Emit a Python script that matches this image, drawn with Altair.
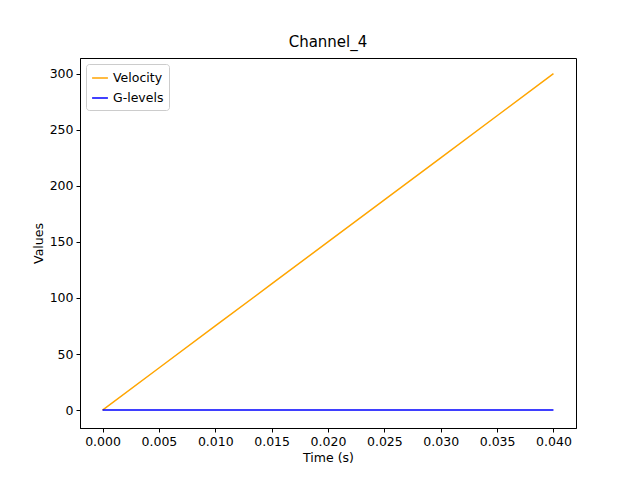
import altair as alt
import pandas as pd

time = [0.0, 0.005, 0.01, 0.015, 0.02, 0.025, 0.03, 0.035, 0.04]
velocity = [0, 37.5, 75, 112.5, 150, 187.5, 225, 262.5, 300]
glevels = [0.0, 0.0, 0.05, 0.1, 0.1, 0.05, 0.05, 0.05, 0.1]

rows = []
for t, v in zip(time, velocity):
    rows.append({"t": t, "v": v, "s": "Velocity"})
for t, g in zip(time, glevels):
    rows.append({"t": t, "v": g, "s": "G-levels"})
df = pd.DataFrame(rows)

chart = alt.Chart(df).mark_line(strokeWidth=1.5, clip=True).encode(
    x=alt.X("t:Q", title="Time (s)", scale=alt.Scale(domain=[-0.002, 0.042], nice=False, zero=False),
            axis=alt.Axis(values=[0, 0.005, 0.01, 0.015, 0.02, 0.025, 0.03, 0.035, 0.04], format=".3f", grid=False)),
    y=alt.Y("v:Q", title="Values", scale=alt.Scale(domain=[-16, 314], nice=False, zero=False),
            axis=alt.Axis(values=[0, 50, 100, 150, 200, 250, 300], grid=False)),
    color=alt.Color("s:N", sort=["Velocity", "G-levels"],
                    scale=alt.Scale(domain=["Velocity", "G-levels"], range=["orange", "blue"]),
                    legend=alt.Legend(title=None, orient="none", legendX=6, legendY=6,
                                      strokeColor="#cccccc", fillColor="white", padding=5,
                                      symbolType="stroke", symbolStrokeWidth=1.5, labelFontSize=12.5,
                                      symbolSize=250, rowPadding=4, cornerRadius=3)),
    detail="s:N",
).properties(
    width=496, height=370,
    title=alt.Title("Channel_4", fontSize=15, fontWeight="normal", font="DejaVu Sans"),
    autosize=alt.AutoSizeParams(type="none"),
    padding={"left": 72, "top": 50, "right": 56, "bottom": 44},
).configure_view(stroke="black", strokeWidth=1).configure_axis(
    labelFont="DejaVu Sans", titleFont="DejaVu Sans", labelFontSize=12.5, titleFontSize=12.5,
    titleFontWeight="normal", labelColor="black", titleColor="black", domainColor="black",
    tickColor="black", tickSize=4, labelPadding=3
).configure_legend(labelFont="DejaVu Sans").configure_title(offset=8)

chart.save("out.html", embed_options={"renderer": "svg", "actions": False})
